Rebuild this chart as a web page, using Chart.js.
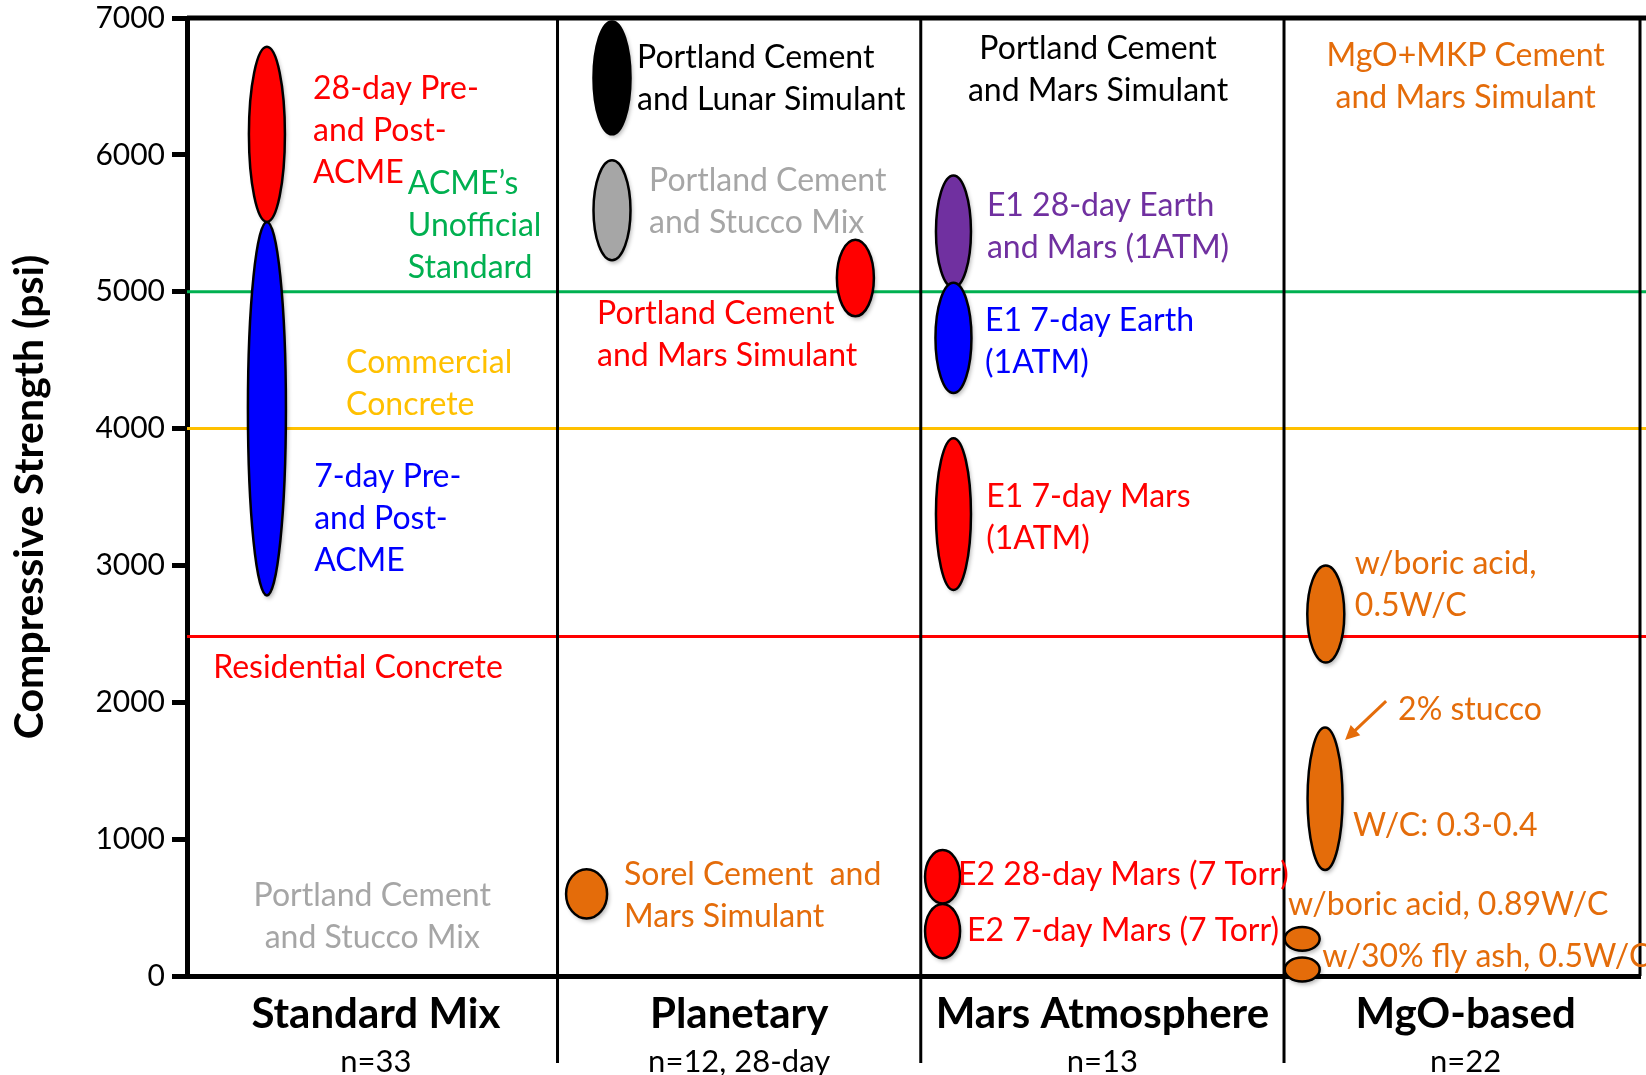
<!DOCTYPE html>
<html>
<head>
<meta charset="utf-8">
<script src="https://cdn.jsdelivr.net/npm/chart.js@4.4.1/dist/chart.umd.min.js"></script>
<style>
  body { margin: 0; background: #fff; }
  #wrap { width: 1646px; height: 1075px; position: relative; }
</style>
</head>
<body>
<div id="wrap"><canvas id="chart"></canvas></div>
<script>
// Categories along the bottom
const categories = ['Standard Mix', 'Planetary', 'Mars Atmosphere', 'MgO-based'];
const sampleCounts = ['n=33', 'n=12, 28-day', 'n=13', 'n=22'];
const categoryCenters = [0.5, 1.5, 2.5, 3.5];
const dividerValues = [1, 2, 3];

// Strength ranges (psi), one ellipse each
const groupNames = [
    'Std 28-day', 'Std 7-day', 'Lunar', 'Stucco', 'Mars simulant', 'Sorel',
    'E1 28-day', 'E1 7-day Earth', 'E1 7-day Mars', 'E2 28-day', 'E2 7-day',
    'Boric 0.5', 'W/C 0.3-0.4', 'Boric 0.89', 'Fly ash'
];
const groupX = [0.2, 0.2, 1.15, 1.15, 1.82, 1.08, 2.09, 2.09, 2.09, 2.06, 2.06, 3.115, 3.113, 3.05, 3.05];
const groupLow = [5510, 2780, 6150, 5230, 4820, 420, 5030, 4260, 2820, 530, 130, 2290, 775, 185, -40];
const groupHigh = [6790, 5510, 6975, 5960, 5380, 780, 5850, 5065, 3930, 920, 527, 3000, 1815, 358, 135];

// Reference strength lines
const thresholdValues = [5000, 4000, 2480];

const RED = '#FF0000', BLUE = '#0000FF', GREEN = '#00B050', YELLOW = '#FFC000';
const GRAY = '#A6A6A6', ORANGE = '#E46C0A', PURPLE = '#7030A0';

const groupColors = [RED, BLUE, '#000000', GRAY, RED, ORANGE, PURPLE, BLUE, RED, RED, RED, ORANGE, ORANGE, ORANGE, ORANGE];
const groupWidths = [36, 38, 37, 37, 37, 41, 35, 36, 35, 35, 35, 37, 35, 35, 35];
const thresholdColors = [GREEN, YELLOW, RED];

// Text notes, anchored in data units (first line)
const notes = [
    { lines: ['28-day Pre-', 'and Post-', 'ACME'], color: RED, x: 0.327, y: 6481 },
    { lines: ['ACME\u2019s', 'Unofficial', 'Standard'], color: GREEN, x: 0.588, y: 5787 },
    { lines: ['Commercial', 'Concrete'], color: YELLOW, x: 0.418, y: 4479 },
    { lines: ['7-day Pre-', 'and Post-', 'ACME'], color: BLUE, x: 0.33, y: 3646 },
    { lines: ['Residential Concrete'], color: RED, x: 0.052, y: 2250 },
    { lines: ['Portland Cement', 'and Stucco Mix'], color: GRAY, x: 0.49, y: 585, align: 'center' },
    { lines: ['Portland Cement', 'and Lunar Simulant'], color: '#000', x: 1.219, y: 6708 },
    { lines: ['Portland Cement', 'and Stucco Mix'], color: GRAY, x: 1.252, y: 5809 },
    { lines: ['Portland Cement', 'and Mars Simulant'], color: RED, x: 1.109, y: 4837 },
    { lines: ['Sorel Cement  and', 'Mars Simulant'], color: ORANGE, x: 1.183, y: 738 },
    { lines: ['Portland Cement', 'and Mars Simulant'], color: '#000', x: 2.488, y: 6773, align: 'center' },
    { lines: ['E1 28-day Earth', 'and Mars (1ATM)'], color: PURPLE, x: 2.182, y: 5626 },
    { lines: ['E1 7-day Earth', '(1ATM)'], color: BLUE, x: 2.177, y: 4786 },
    { lines: ['E1 7-day Mars', '(1ATM)'], color: RED, x: 2.18, y: 3500 },
    { lines: ['E2 28-day Mars (7 Torr)'], color: RED, x: 2.1025, y: 738 },
    { lines: ['E2 7-day Mars (7 Torr)'], color: RED, x: 2.127, y: 329 },
    { lines: ['MgO+MKP Cement', 'and Mars Simulant'], color: ORANGE, x: 3.5, y: 6722, align: 'center' },
    { lines: ['w/boric acid,', '0.5W/C'], color: ORANGE, x: 3.195, y: 3010 },
    { lines: ['2% stucco'], color: ORANGE, x: 3.314, y: 1944 },
    { lines: ['W/C: 0.3-0.4'], color: ORANGE, x: 3.19, y: 1096 },
    { lines: ['w/boric acid, 0.89W/C'], color: ORANGE, x: 3.011, y: 519 },
    { lines: ['w/30% fly ash, 0.5W/C'], color: ORANGE, x: 3.105, y: 139 }
];
const arrowFrom = { x: 3.281, y: 2009 };
const arrowTo = { x: 3.168, y: 1724 };

Chart.defaults.font.family = 'Lato, "Open Sans", sans-serif';
Chart.defaults.color = '#000';

// Frame lines, reference lines and dividers (behind the ellipses)
const framePlugin = {
    id: 'frame',
    beforeDatasetsDraw(chart) {
        const { ctx, chartArea, scales: { x, y } } = chart;
        ctx.save();
        thresholdValues.forEach((v, i) => {
            const py = y.getPixelForValue(v);
            ctx.strokeStyle = thresholdColors[i];
            ctx.lineWidth = 3;
            ctx.beginPath();
            ctx.moveTo(chartArea.left, py);
            ctx.lineTo(chart.width, py);
            ctx.stroke();
        });
        ctx.strokeStyle = '#000';
        ctx.lineWidth = 3;
        dividerValues.forEach(v => {
            const px = x.getPixelForValue(v);
            ctx.beginPath();
            ctx.moveTo(px, chartArea.top);
            ctx.lineTo(px, chartArea.bottom + 87);
            ctx.stroke();
        });
        ctx.beginPath();
        ctx.moveTo(chartArea.right, chartArea.top);
        ctx.lineTo(chartArea.right, chartArea.bottom);
        ctx.stroke();
        ctx.lineWidth = 5;
        ctx.beginPath();
        ctx.moveTo(chartArea.left, chartArea.top);
        ctx.lineTo(chart.width, chartArea.top);
        ctx.stroke();
        ctx.restore();
    }
};

// Ellipses over the hidden floating bars, then the text notes
const ellipsePlugin = {
    id: 'ellipses',
    afterDatasetsDraw(chart) {
        const { ctx, scales: { x, y } } = chart;
        const meta = chart.getDatasetMeta(0);
        ctx.save();
        meta.data.forEach((bar, i) => {
            const p = bar.getProps(['x', 'y', 'base'], true);
            const cy = (p.y + p.base) / 2;
            const ry = Math.abs(p.base - p.y) / 2;
            const rx = groupWidths[i] / 2;
            ctx.beginPath();
            ctx.ellipse(p.x, cy, rx, ry, 0, 0, Math.PI * 2);
            ctx.shadowColor = 'rgba(0,0,0,0.3)';
            ctx.shadowBlur = 4;
            ctx.shadowOffsetX = 2;
            ctx.shadowOffsetY = 3;
            ctx.fillStyle = groupColors[i];
            ctx.fill();
            ctx.shadowColor = 'transparent';
            ctx.lineWidth = 2.5;
            ctx.strokeStyle = '#000';
            ctx.stroke();
        });

        ctx.font = '32px Lato';
        ctx.textBaseline = 'middle';
        notes.forEach(n => {
            ctx.fillStyle = n.color;
            ctx.textAlign = n.align || 'left';
            const px = x.getPixelForValue(n.x);
            const py = y.getPixelForValue(n.y);
            n.lines.forEach((line, k) => ctx.fillText(line, px, py + k * 42));
        });

        // arrow to the 2% stucco ellipse
        const ax = x.getPixelForValue(arrowFrom.x), ay = y.getPixelForValue(arrowFrom.y);
        const bx = x.getPixelForValue(arrowTo.x), by = y.getPixelForValue(arrowTo.y);
        const ang = Math.atan2(by - ay, bx - ax);
        ctx.strokeStyle = ORANGE;
        ctx.fillStyle = ORANGE;
        ctx.lineWidth = 3;
        ctx.beginPath();
        ctx.moveTo(ax, ay);
        ctx.lineTo(bx - 10 * Math.cos(ang), by - 10 * Math.sin(ang));
        ctx.stroke();
        ctx.beginPath();
        ctx.moveTo(bx, by);
        ctx.lineTo(bx - 16 * Math.cos(ang - 0.45), by - 16 * Math.sin(ang - 0.45));
        ctx.lineTo(bx - 16 * Math.cos(ang + 0.45), by - 16 * Math.sin(ang + 0.45));
        ctx.closePath();
        ctx.fill();

        // sample counts under the category names
        ctx.fillStyle = '#000';
        ctx.textAlign = 'center';
        ctx.font = '31px Lato';
        sampleCounts.forEach((s, i) => {
            ctx.fillText(s, x.getPixelForValue(categoryCenters[i]), chart.chartArea.bottom + 86);
        });
        ctx.restore();
    }
};

new Chart(document.getElementById('chart'), {
    type: 'bar',
    data: {
        datasets: [{
            label: 'Compressive strength range',
            data: groupX.map((gx, i) => ({ x: gx, y: [groupLow[i], groupHigh[i]] })),
            backgroundColor: 'rgba(0,0,0,0)',
            borderWidth: 0,
            barThickness: 1
        }]
    },
    options: {
        responsive: true,
        maintainAspectRatio: false,
        animation: false,
        layout: { padding: { top: 18, right: 6, left: 0, bottom: 0 } },
        plugins: { legend: { display: false }, tooltip: { enabled: false } },
        scales: {
            x: {
                type: 'linear',
                offset: false,
                min: -0.02,
                max: 3.98,
                afterBuildTicks: scale => { scale.ticks = categoryCenters.map(v => ({ value: v })); },
                afterFit: scale => { scale.height = 99; },
                grid: { display: false, drawTicks: false },
                border: { display: true, color: '#000', width: 5 },
                ticks: {
                    callback: (v, i) => categories[i],
                    font: { size: 42, weight: 'bold' },
                    color: '#000',
                    padding: 13,
                    maxRotation: 0,
                    autoSkip: false
                }
            },
            y: {
                min: 0,
                max: 7000,
                afterFit: scale => {
                    scale.width = 187;
                    scale.paddingTop = 0;
                    scale.paddingBottom = 0;
                },
                grid: { drawOnChartArea: false, drawTicks: true, tickLength: 15, lineWidth: 5, color: '#000' },
                border: { display: true, color: '#000', width: 5 },
                ticks: {
                    stepSize: 1000,
                    padding: 7,
                    font: { size: 30 },
                    color: '#000',
                    callback: v => String(v)
                },
                title: {
                    display: true,
                    text: 'Compressive Strength (psi)',
                    font: { size: 41, weight: 'bold' },
                    color: '#000',
                    padding: { top: 5, bottom: 0 }
                }
            }
        }
    },
    plugins: [framePlugin, ellipsePlugin]
});
</script>
</body>
</html>
